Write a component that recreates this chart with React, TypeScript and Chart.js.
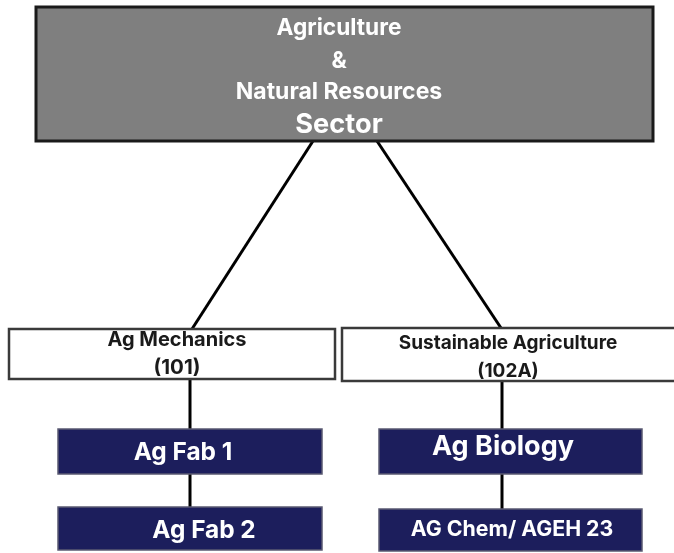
import React, { useEffect, useRef } from "react";
import { Chart, registerables } from "chart.js";

Chart.register(...registerables);

// ---- Org chart content (data units: x 0..674, y 0..553 top-down) ----
const nodeLabels: string[][] = [
  ["Agriculture", "&", "Natural Resources", "Sector"],
  ["Ag Mechanics", "(101)"],
  ["Sustainable Agriculture", "(102A)"],
  ["Ag Fab 1"],
  ["Ag Fab 2"],
  ["Ag Biology"],
  ["AG Chem/ AGEH 23"],
];
const nodeLeft = [36, 9, 342, 58, 58, 379, 379];
const nodeRight = [653, 335, 678, 322, 322, 642, 642];
const nodeTop = [7, 329, 328, 429, 507, 429, 509];
const nodeBottom = [141, 379, 381, 474, 550, 474, 551];
const labelX = [339, 177, 508, 183, 204, 503, 512];
const labelY: number[][] = [
  [28, 61, 92, 125],
  [340, 368],
  [343, 371],
  [453],
  [531],
  [447],
  [530],
];

const linkFrom = [0, 0, 1, 3, 2, 5];
const linkTo = [1, 2, 3, 4, 5, 6];
const linkFromX = [313, 377, 190, 190, 502, 502];
const linkToX = [192, 501, 190, 190, 502, 502];

// ---- styles ----
const nodeKind = ["sector", "pathway", "pathway", "course", "course", "course", "course"];
const fontSizes: number[][] = [
  [22.7, 22.7, 23, 27.2],
  [20, 20.5],
  [19, 19],
  [24.4],
  [24.4],
  [27],
  [21.3],
];
const FONT = "Inter, 'Liberation Sans', Arial, sans-serif";

const kindStyle: Record<string, { fill: string; stroke: string; lw: number; text: string }> = {
  sector: { fill: "#7f7f7f", stroke: "#1a1a1a", lw: 3, text: "#ffffff" },
  pathway: { fill: "#ffffff", stroke: "#3a3a3a", lw: 2.5, text: "#1a1a1a" },
  course: { fill: "#1c1e5c", stroke: "#5a5a72", lw: 1.5, text: "#ffffff" },
};

const boxesPlugin = {
  id: "orgBoxes",
  afterDatasetsDraw(chart: any) {
    const { ctx, scales } = chart;
    const xs = scales.x;
    const ys = scales.y;
    ctx.save();
    nodeLabels.forEach((lines, i) => {
      const st = kindStyle[nodeKind[i]];
      const x0 = xs.getPixelForValue(nodeLeft[i]);
      const x1 = xs.getPixelForValue(nodeRight[i]);
      const y0 = ys.getPixelForValue(nodeTop[i]);
      const y1 = ys.getPixelForValue(nodeBottom[i]);
      ctx.fillStyle = st.fill;
      ctx.fillRect(x0, y0, x1 - x0, y1 - y0);
      ctx.lineWidth = st.lw;
      ctx.strokeStyle = st.stroke;
      ctx.strokeRect(x0, y0, x1 - x0, y1 - y0);
      ctx.fillStyle = st.text;
      ctx.textAlign = "center";
      ctx.textBaseline = "middle";
      lines.forEach((t, j) => {
        ctx.font = `bold ${fontSizes[i][j]}px ${FONT}`;
        ctx.fillText(t, xs.getPixelForValue(labelX[i]), ys.getPixelForValue(labelY[i][j]));
      });
    });
    ctx.restore();
  },
};

export default function App() {
  const ref = useRef<HTMLCanvasElement | null>(null);
  useEffect(() => {
    if (!ref.current) return;
    const datasets = linkFrom.map((p, k) => ({
      label: `link${k}`,
      data: [
        { x: linkFromX[k], y: nodeBottom[p] },
        { x: linkToX[k], y: nodeTop[linkTo[k]] },
      ],
      showLine: true,
      borderColor: "#000000",
      borderWidth: 3,
      pointRadius: 0,
      fill: false,
    }));
    const chart = new Chart(ref.current, {
      type: "scatter",
      data: { datasets },
      options: {
        animation: false,
        responsive: true,
        maintainAspectRatio: false,
        layout: { padding: 0 },
        plugins: { legend: { display: false }, tooltip: { enabled: false } },
        scales: {
          x: { type: "linear", min: 0, max: 674, display: false },
          y: { type: "linear", min: 0, max: 553, reverse: true, display: false },
        },
      },
      plugins: [boxesPlugin],
    });
    return () => chart.destroy();
  }, []);
  return (
    <div style={{ position: "fixed", left: 0, top: 0, width: 674, height: 553, background: "#ffffff" }}>
      <canvas ref={ref} />
    </div>
  );
}
